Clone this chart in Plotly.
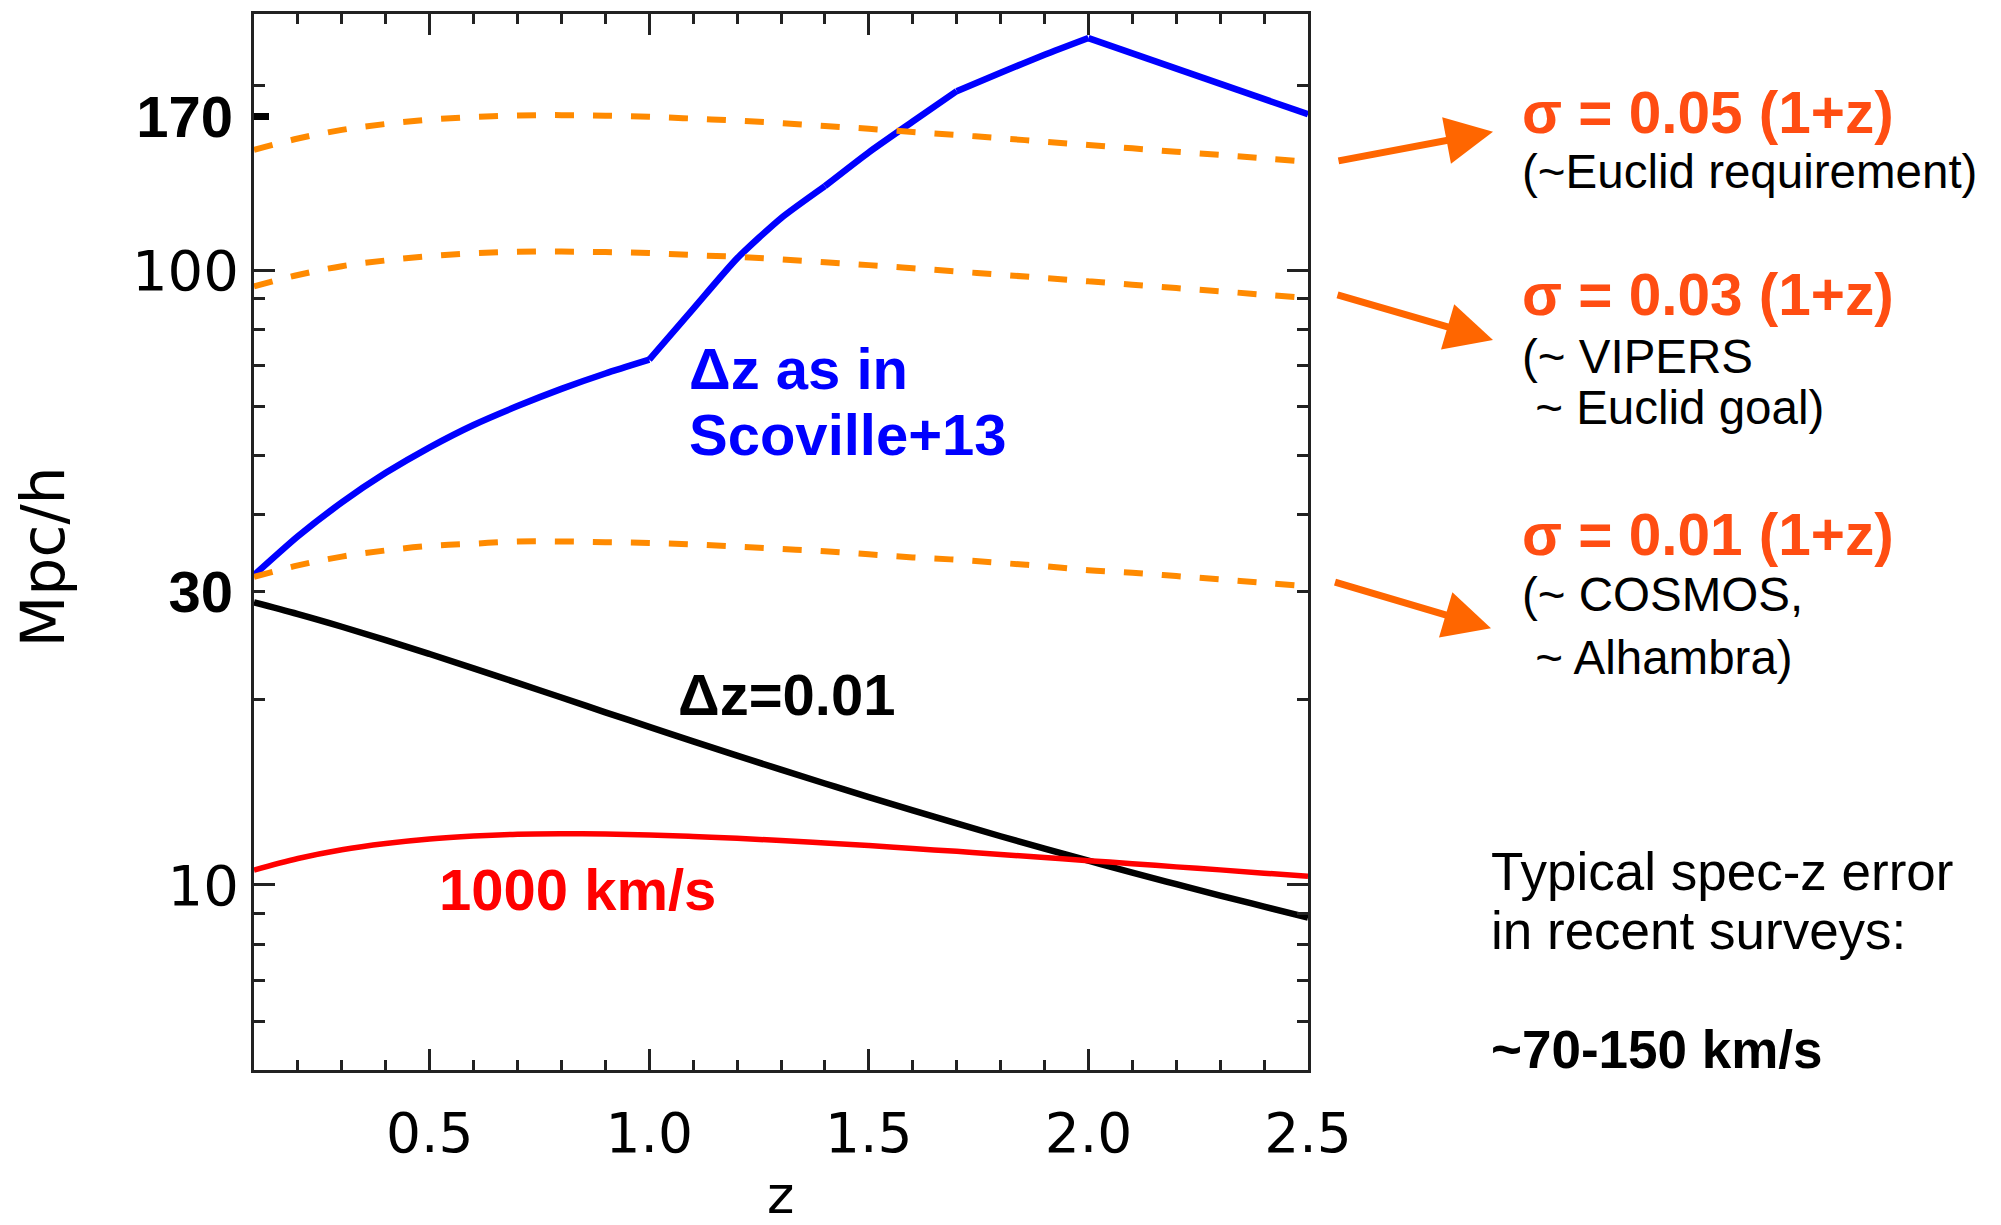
import math
import plotly.graph_objects as go

# ---------------- data ----------------
z_grid = [0.1, 0.2, 0.3, 0.4, 0.5, 0.6, 0.7, 0.8, 0.9, 1.0, 1.1, 1.2, 1.3,
          1.4, 1.5, 1.6, 1.7, 1.8, 1.9, 2.0, 2.1, 2.2, 2.3, 2.4, 2.5]

dz_001 = [28.8, 27.57, 26.3, 25.02, 23.75, 22.51, 21.31, 20.18, 19.09, 18.08,
          17.12, 16.23, 15.4, 14.62, 13.89, 13.22, 12.59, 12.0, 11.46, 10.95,
          10.47, 10.03, 9.61, 9.22, 8.85]

v_1000 = [10.57, 11.04, 11.41, 11.68, 11.88, 12.01, 12.09, 12.11, 12.10, 12.06,
          11.99, 11.91, 11.81, 11.70, 11.59, 11.46, 11.34, 11.21, 11.08, 10.95,
          10.83, 10.70, 10.58, 10.45, 10.33]

sig_005 = [156.9, 163.7, 169.1, 172.9, 175.7, 177.5, 178.5, 178.7, 178.3, 177.6,
           176.4, 175.1, 173.5, 171.6, 169.8, 167.8, 165.9, 163.9, 161.8, 159.8,
           157.8, 155.8, 154.0, 152.0, 150.1]

sig_003 = [94.1, 98.2, 101.5, 103.7, 105.4, 106.5, 107.1, 107.2, 107.0, 106.6,
           105.8, 105.1, 104.1, 103.0, 101.9, 100.7, 99.5, 98.3, 97.1, 95.9,
           94.7, 93.5, 92.4, 91.2, 90.1]

sig_001 = [31.7, 33.1, 34.2, 35.0, 35.6, 35.9, 36.2, 36.2, 36.1, 36.0, 35.8,
           35.5, 35.2, 34.9, 34.5, 34.1, 33.8, 33.4, 33.0, 32.5, 32.2, 31.8,
           31.4, 31.0, 30.6]

z_scov = [0.1, 0.2, 0.3, 0.4, 0.5, 0.6, 0.7, 0.8, 0.9, 1.0, 1.1, 1.2, 1.3,
          1.4, 1.5, 1.6, 1.7, 1.8, 1.9, 2.0, 2.5]
scoville = [31.9, 36.9, 41.9, 46.8, 51.5, 56.0, 60.1, 64.1, 67.9, 71.5, 86.5,
            104.5, 121.5, 137.0, 155.5, 174.5, 195.5, 209.5, 224.0, 238.5, 179.3]
scov_kinks = [1.0, 1.4, 1.7, 2.0]   # redshifts where the binning changes

x_tickvals = [0.5, 1.0, 1.5, 2.0, 2.5]
x_ticktext = ["0.5", "1.0", "1.5", "2.0", "2.5"]
y_tickvals = [10, 100]
y_ticktext = ["10", "100"]
y_minorvals = [6, 7, 8, 9, 20, 30, 40, 50, 60, 70, 80, 90, 200]
y_boldvals = [30, 178]
y_boldtext = ["30", "170"]

# ---------------- styling ----------------
ORANGE = "#FF8A00"
SIGTXT = "#FF4D12"
ARROW = "#FF6600"
AXC = "#222222"
W, H = 2001, 1225
OFF = 8                       # page body margin
L, R, T, B = 246, 701, 3, 163
PW, PH = W - L - R, H - T - B

def px(x):   # page pixel -> paper
    return (x - OFF - L) / PW

def py(y):
    return (H - B - (y - OFF)) / PH

fig = go.Figure()
# main subplot: black + red (red on top)
fig.add_trace(go.Scatter(x=z_grid, y=dz_001, mode="lines",
                         line=dict(color="black", width=6.5, shape="spline"),
                         hoverinfo="skip", showlegend=False))
fig.add_trace(go.Scatter(x=z_grid, y=v_1000, mode="lines",
                         line=dict(color="#FF0000", width=5.5, shape="spline"),
                         hoverinfo="skip", showlegend=False))

# blue Scoville+13 curve, smooth between the binning changes
bounds = [0] + [z_scov.index(k) for k in scov_kinks] + [len(z_scov) - 1]
for a, b in zip(bounds[:-1], bounds[1:]):
    fig.add_trace(go.Scatter(x=z_scov[a:b + 1], y=scoville[a:b + 1], mode="lines",
                             line=dict(color="#0000FF", width=6.5, shape="spline",
                                       smoothing=0.6),
                             yaxis="y2", hoverinfo="skip", showlegend=False))

# orange dashed sigma curves (on top)
for s in (sig_005, sig_003, sig_001):
    fig.add_trace(go.Scatter(x=z_grid, y=s, mode="lines",
                             line=dict(color=ORANGE, width=6, dash="19px,19px",
                                       shape="spline"),
                             yaxis="y3", hoverinfo="skip", showlegend=False))

yrange = [math.log10(5), math.log10(261)]

fig.update_layout(
    width=W, height=H,
    margin=dict(l=L, r=R, t=T, b=B, pad=0),
    paper_bgcolor="white", plot_bgcolor="white",
    showlegend=False,
    xaxis=dict(
        range=[0.1, 2.5], showline=True, linecolor=AXC, linewidth=3,
        mirror="ticks", ticks="inside", ticklen=21, tickwidth=3, tickcolor=AXC,
        tickmode="array", tickvals=x_tickvals, ticktext=x_ticktext,
        tickfont=dict(family="DejaVu Sans", size=55, color="black"),
        ticklabelstandoff=13,
        showgrid=False, zeroline=False,
        minor=dict(ticks="inside", ticklen=10, tickwidth=3, tickcolor=AXC,
                   tick0=0.1, dtick=0.1, showgrid=False),
    ),
    yaxis=dict(
        type="log", range=yrange, showline=True, linecolor=AXC, linewidth=3,
        mirror="ticks", ticks="inside", ticklen=21, tickwidth=3, tickcolor=AXC,
        tickmode="array", tickvals=y_tickvals, ticktext=y_ticktext,
        tickfont=dict(family="DejaVu Sans", size=56, color="black"),
        ticklabelstandoff=1,
        showgrid=False, zeroline=False,
        minor=dict(ticks="inside", ticklen=11, tickwidth=3, tickcolor=AXC,
                   tickmode="array", tickvals=y_minorvals, showgrid=False),
    ),
    yaxis2=dict(
        type="log", range=yrange, overlaying="y", anchor="x", side="left",
        showline=False, showgrid=False, zeroline=False, ticks="",
        tickmode="array", tickvals=y_boldvals, ticktext=y_boldtext,
        tickfont=dict(family="Liberation Sans", size=58, color="black",
                      weight="bold"),
        ticklabelstandoff=20,
    ),
    yaxis3=dict(
        type="log", range=yrange, overlaying="y", anchor="x", side="left",
        showline=False, showgrid=False, zeroline=False, showticklabels=False,
        ticks="inside", ticklen=15, tickwidth=7, tickcolor="black",
        tickmode="array", tickvals=[y_boldvals[1]],
    ),
)

anns = []

def txt(text, x, y, color="black", size=52, bold=False, family="Liberation Sans"):
    anns.append(dict(text=text, xref="paper", yref="paper", x=px(x), y=py(y),
                     xanchor="left", yanchor="middle", showarrow=False,
                     font=dict(family=family, size=size, color=color,
                               weight="bold" if bold else "normal")))

txt("Δz as in", 687, 367, "#0000FF", 58, True)
txt("Scoville+13", 687, 432.5, "#0000FF", 58, True)
txt("Δz=0.01", 676, 693, "black", 58, True)
txt("1000 km/s", 437, 888.5, "#FF0000", 58, True)

txt("σ = 0.05 (1+z)", 1520, 109.5, SIGTXT, 58.5, True)
txt("(~Euclid requirement)", 1520, 169, "black", 47.5)
txt("σ = 0.03 (1+z)", 1520, 292.5, SIGTXT, 58.5, True)
txt("(~ VIPERS", 1520, 354.5, "black", 47.5)
txt("\u00a0~ Euclid goal)", 1520, 406, "black", 47.5)
txt("σ = 0.01 (1+z)", 1520, 532.5, SIGTXT, 58.5, True)
txt("(~ COSMOS,", 1520, 593, "black", 47.5)
txt("\u00a0~ Alhambra)", 1520, 656, "black", 47.5)

txt("Typical spec-z error", 1489, 870.5, "black", 53)
txt("in recent surveys:", 1489, 930.5, "black", 53)
txt("~70-150 km/s", 1489, 1049.5, "black", 53, True)

# axis titles
anns.append(dict(text="Mpc/h", xref="paper", yref="paper", x=px(43), y=py(556),
                 xanchor="center", yanchor="middle", showarrow=False, textangle=-90,
                 font=dict(family="DejaVu Sans", size=60, color="black")))
anns.append(dict(text="z", xref="paper", yref="paper", x=px(780), y=py(1195),
                 xanchor="center", yanchor="middle", showarrow=False,
                 font=dict(family="DejaVu Sans", size=52, color="black")))

# arrows (tip, tail in page pixels)
for (tx, ty), (sx, sy) in [((1493, 129), (1337, 158.5)),
                           ((1493, 338), (1336, 292.4)),
                           ((1491, 627), (1333.5, 580.4))]:
    anns.append(dict(text="", xref="paper", yref="paper", x=px(tx), y=py(ty),
                     ax=sx - tx, ay=sy - ty, showarrow=True, arrowhead=2,
                     arrowsize=1.35, arrowwidth=7, arrowcolor=ARROW, standoff=0))

fig.update_layout(annotations=anns)
fig.write_html("out.html")
